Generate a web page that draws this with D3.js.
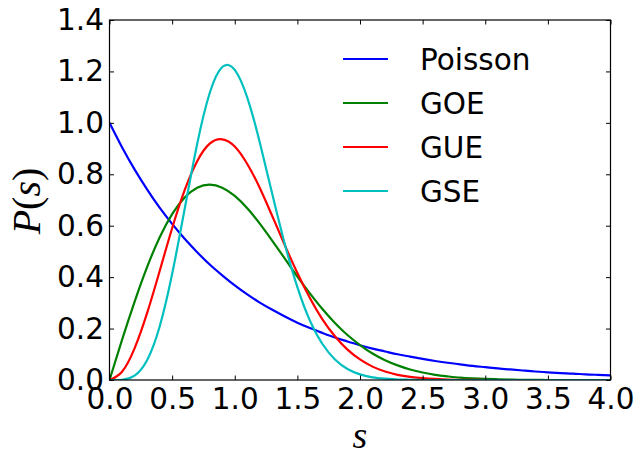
<!DOCTYPE html>
<html>
<head>
<meta charset="utf-8">
<script src="https://cdn.jsdelivr.net/npm/d3@7"></script>
<style>
  html, body { margin: 0; padding: 0; background: #fff; }
  svg { display: block; }
  .tick-label { font-family: "DejaVu Sans", sans-serif; font-size: 29.5px; fill: #000; }
  .math { font-family: "Liberation Serif", "DejaVu Serif", serif; fill: #000; }
</style>
</head>
<body>
<svg id="chart" width="634" height="453"></svg>
<script>
// Level-spacing distributions sampled on s = 0.0 … 4.0 (step 0.1)
const spacing = d3.range(41).map(i => +(i / 10).toFixed(1));

const poisson = [1.000, 0.905, 0.819, 0.741, 0.670, 0.607, 0.549, 0.497, 0.449, 0.407,
  0.368, 0.333, 0.301, 0.273, 0.247, 0.223, 0.202, 0.183, 0.165, 0.150,
  0.135, 0.122, 0.111, 0.100, 0.091, 0.082, 0.074, 0.067, 0.061, 0.055,
  0.050, 0.045, 0.041, 0.037, 0.033, 0.030, 0.027, 0.025, 0.022, 0.020, 0.018];

const goe = [0.000, 0.156, 0.304, 0.439, 0.554, 0.645, 0.710, 0.748, 0.760, 0.748,
  0.716, 0.668, 0.608, 0.541, 0.472, 0.402, 0.337, 0.276, 0.222, 0.175,
  0.136, 0.103, 0.077, 0.057, 0.041, 0.029, 0.020, 0.014, 0.009, 0.006,
  0.004, 0.003, 0.002, 0.001, 0.001, 0.000, 0.000, 0.000, 0.000, 0.000, 0.000];

const gue = [0.000, 0.032, 0.123, 0.260, 0.423, 0.590, 0.738, 0.851, 0.919, 0.936,
  0.908, 0.840, 0.747, 0.637, 0.524, 0.416, 0.319, 0.236, 0.170, 0.118,
  0.080, 0.052, 0.033, 0.020, 0.012, 0.007, 0.004, 0.002, 0.001, 0.001,
  0.000, 0.000, 0.000, 0.000, 0.000, 0.000, 0.000, 0.000, 0.000, 0.000, 0.000];

const gse = [0.000, 0.001, 0.017, 0.077, 0.207, 0.412, 0.665, 0.918, 1.116, 1.217,
  1.206, 1.098, 0.924, 0.722, 0.528, 0.361, 0.231, 0.140, 0.080, 0.043,
  0.022, 0.010, 0.005, 0.002, 0.001, 0.000, 0.000, 0.000, 0.000, 0.000,
  0.000, 0.000, 0.000, 0.000, 0.000, 0.000, 0.000, 0.000, 0.000, 0.000, 0.000];

const seriesNames = ["Poisson", "GOE", "GUE", "GSE"];
const seriesValues = [poisson, goe, gue, gse];
const seriesColors = ["#0000ff", "#008000", "#ff0000", "#00bfbf"];

const xTicks = [0, 0.5, 1.0, 1.5, 2.0, 2.5, 3.0, 3.5, 4.0];
const yTicks = [0, 0.2, 0.4, 0.6, 0.8, 1.0, 1.2, 1.4];

const plot = { left: 109.5, right: 610.5, top: 20, bottom: 380 };

const svg = d3.select("#chart");
const x = d3.scaleLinear().domain([0, 4]).range([plot.left, plot.right]);
const y = d3.scaleLinear().domain([0, 1.4]).range([plot.bottom, plot.top]);

// clip curves to the axes box
svg.append("clipPath").attr("id", "plot-clip")
  .append("rect")
  .attr("x", plot.left).attr("y", plot.top)
  .attr("width", plot.right - plot.left).attr("height", plot.bottom - plot.top);

const line = d3.line()
  .x(d => x(d[0]))
  .y(d => y(d[1]))
  .curve(d3.curveNatural);

const curves = svg.append("g").attr("clip-path", "url(#plot-clip)");
seriesValues.forEach((vals, i) => {
  curves.append("path")
    .datum(spacing.map((s, j) => [s, vals[j]]))
    .attr("fill", "none")
    .attr("stroke", seriesColors[i])
    .attr("stroke-width", 2.2)
    .attr("stroke-linejoin", "round")
    .attr("d", line);
});

// axes with inward ticks on all four sides
const tickLen = 4.5;
const fmt = d3.format(".1f");

const bottomAxis = d3.axisBottom(x).tickValues(xTicks).tickSize(-tickLen).tickFormat(fmt).tickPadding(8.5);
const topAxis = d3.axisTop(x).tickValues(xTicks).tickSize(-tickLen).tickFormat("");
const leftAxis = d3.axisLeft(y).tickValues(yTicks).tickSize(-tickLen).tickFormat(fmt).tickPadding(5.5);
const rightAxis = d3.axisRight(y).tickValues(yTicks).tickSize(-tickLen).tickFormat("");

function styleAxis(g) {
  g.select(".domain").remove();
  g.selectAll(".tick line").attr("stroke", "#000").attr("stroke-width", 1);
  g.selectAll(".tick text").attr("class", "tick-label").attr("font-size", null).attr("font-family", null);
}

svg.append("g").attr("transform", `translate(0,${plot.bottom})`).call(bottomAxis).call(styleAxis);
svg.append("g").attr("transform", `translate(0,${plot.top})`).call(topAxis).call(styleAxis);
svg.append("g").attr("transform", `translate(${plot.left},0)`).call(leftAxis).call(styleAxis);
svg.append("g").attr("transform", `translate(${plot.right},0)`).call(rightAxis).call(styleAxis);

svg.selectAll(".tick text").attr("fill", "#000");

// frame
svg.append("rect")
  .attr("x", plot.left).attr("y", plot.top)
  .attr("width", plot.right - plot.left).attr("height", plot.bottom - plot.top)
  .attr("fill", "none").attr("stroke", "#000").attr("stroke-width", 1.2);

// axis labels
const xl = svg.append("text").attr("class", "math")
  .attr("x", (plot.left + plot.right) / 2).attr("y", 448)
  .attr("text-anchor", "middle").attr("font-size", 38);
xl.append("tspan").attr("font-style", "italic").text("s");

const yl = svg.append("text").attr("class", "math")
  .attr("transform", `translate(40,201) rotate(-90)`)
  .attr("text-anchor", "middle").attr("font-size", 40);
yl.append("tspan").attr("font-style", "italic").text("P");
yl.append("tspan").text("(");
yl.append("tspan").attr("font-style", "italic").text("s");
yl.append("tspan").text(")");

// legend
const legend = svg.append("g");
seriesNames.forEach((name, i) => {
  const cy = 59 + i * 44;
  legend.append("line")
    .attr("x1", 343).attr("x2", 388).attr("y1", cy).attr("y2", cy)
    .attr("stroke", seriesColors[i]).attr("stroke-width", 2.2);
  legend.append("text").attr("class", "tick-label")
    .attr("x", 420).attr("y", cy).attr("dy", "0.36em")
    .text(name);
});
</script>
</body>
</html>
